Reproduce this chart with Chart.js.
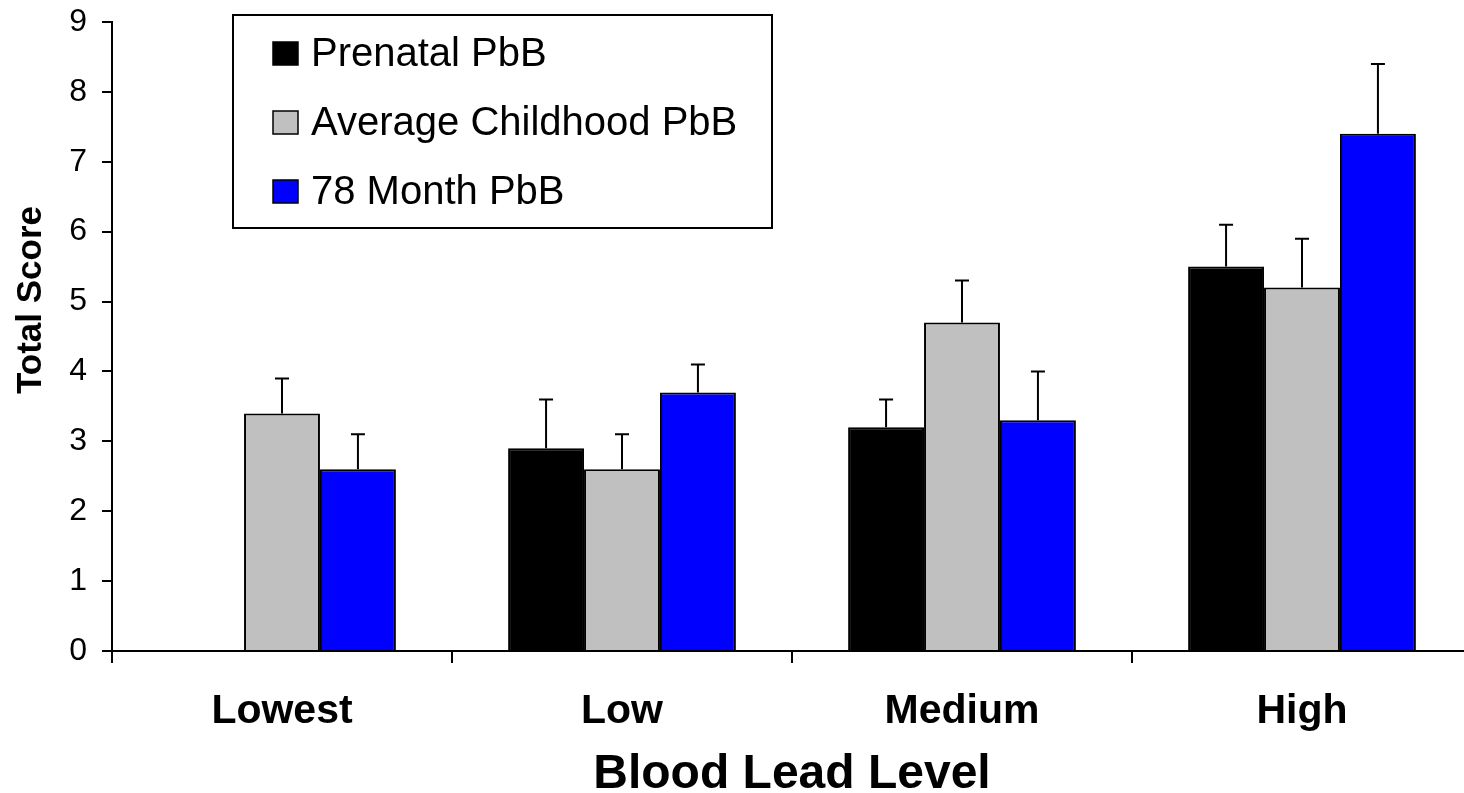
<!DOCTYPE html>
<html>
<head>
<meta charset="utf-8">
<script src="https://cdn.jsdelivr.net/npm/chart.js@4/dist/chart.umd.min.js"></script>
<style>
  html, body { margin: 0; padding: 0; background: #fff; overflow: hidden; }
  #wrap { width: 1480px; height: 793px; position: relative; }
</style>
</head>
<body>
<div id="wrap"><canvas id="myChart"></canvas></div>
<script>
// data
var categories = ['Lowest', 'Low', 'Medium', 'High'];
var seriesNames = ['Prenatal PbB', 'Average Childhood PbB', '78 Month PbB'];
var prenatal = [null, 2.9, 3.2, 5.5];
var childhood = [3.4, 2.6, 4.7, 5.2];
var month78 = [2.6, 3.7, 3.3, 7.4];
// upper error (amount above bar top)
var errPrenatal = [null, 0.7, 0.4, 0.6];
var errChildhood = [0.5, 0.5, 0.6, 0.7];
var errMonth78 = [0.5, 0.4, 0.7, 1.0];
var yTicks = [0, 1, 2, 3, 4, 5, 6, 7, 8, 9];

var fillColors = ['#000000', '#c0c0c0', '#0000ff'];
var FONT = "'Liberation Sans', Arial, Helvetica, sans-serif";

var errorBars = {
    id: 'errorBars',
    afterDatasetsDraw: function (chart) {
        var ctx = chart.ctx;
        var y = chart.scales.y;
        ctx.save();
        ctx.strokeStyle = '#000';
        ctx.lineWidth = 2;
        chart.data.datasets.forEach(function (ds, i) {
            var meta = chart.getDatasetMeta(i);
            meta.data.forEach(function (bar, j) {
                var v = ds.data[j];
                var e = ds.errors[j];
                if (v == null || e == null) return;
                var top = y.getPixelForValue(v + e);
                ctx.beginPath();
                ctx.moveTo(bar.x, bar.y);
                ctx.lineTo(bar.x, top);
                ctx.moveTo(bar.x - 7, top);
                ctx.lineTo(bar.x + 7, top);
                ctx.stroke();
            });
        });
        ctx.restore();
    }
};

var boxLegend = {
    id: 'boxLegend',
    afterDraw: function (chart) {
        var ctx = chart.ctx;
        ctx.save();
        ctx.strokeStyle = '#000';
        ctx.lineWidth = 2;
        ctx.strokeRect(233, 15, 539, 213);
        ctx.font = '40px ' + FONT;
        ctx.textBaseline = 'middle';
        ctx.textAlign = 'left';
        var rows = [53, 122, 191];
        chart.data.datasets.forEach(function (ds, i) {
            var cy = rows[i];
            ctx.fillStyle = ds.backgroundColor;
            ctx.fillRect(273, cy - 11, 25, 23);
            ctx.lineWidth = 1.5;
            ctx.strokeRect(273, cy - 11, 25, 23);
            ctx.fillStyle = '#000';
            ctx.fillText(ds.label, 311, cy + 2);
        });
        // y axis title
        ctx.font = 'bold 35px ' + FONT;
        ctx.translate(31, 300);
        ctx.rotate(-Math.PI / 2);
        ctx.textAlign = 'center';
        ctx.fillText('Total Score', 0, 0);
        ctx.restore();
    }
};

var ctx = document.getElementById('myChart');
var datasets = [prenatal, childhood, month78].map(function (vals, i) {
    return {
        label: seriesNames[i],
        data: vals,
        errors: [errPrenatal, errChildhood, errMonth78][i],
        backgroundColor: fillColors[i],
        borderColor: '#000000',
        borderWidth: 2,
        categoryPercentage: 0.67,
        barPercentage: 1.0
    };
});

var config = {
    type: 'bar',
    data: { labels: categories, datasets: datasets },
    options: {
        responsive: true,
        maintainAspectRatio: false,
        animation: false,
        layout: { padding: { left: 0, right: 8, top: 22, bottom: 0 } },
        plugins: {
            legend: { display: false },
            tooltip: { enabled: false }
        },
        scales: {
            x: {
                offset: true,
                grid: { display: true, drawOnChartArea: false, offset: true, color: '#000', lineWidth: 2, tickLength: 12 },
                border: { display: true, color: '#000', width: 2 },
                ticks: { color: '#000', padding: 24, font: { family: FONT, size: 41, weight: 'bold' } },
                title: {
                    display: true,
                    text: 'Blood Lead Level',
                    color: '#000',
                    font: { family: FONT, size: 48, weight: 'bold', lineHeight: 0.76 },
                    padding: { top: 0, bottom: 0 }
                },
                afterFit: function (scale) { scale.height = 142; }
            },
            y: {
                min: 0,
                max: 9,
                afterBuildTicks: function (scale) {
                    scale.ticks = yTicks.map(function (v) { return { value: v }; });
                },
                grid: { display: true, drawOnChartArea: false, color: '#000', lineWidth: 2, tickLength: 10 },
                border: { display: true, color: '#000', width: 2 },
                ticks: { color: '#000', padding: 15, font: { family: FONT, size: 32 } },
                afterFit: function (scale) {
                    scale.width = 112;
                    scale.paddingTop = 0;
                    scale.paddingBottom = 0;
                }
            }
        }
    },
    plugins: [errorBars, boxLegend]
};
var currentChart = new Chart(ctx, config);
</script>
</body>
</html>
